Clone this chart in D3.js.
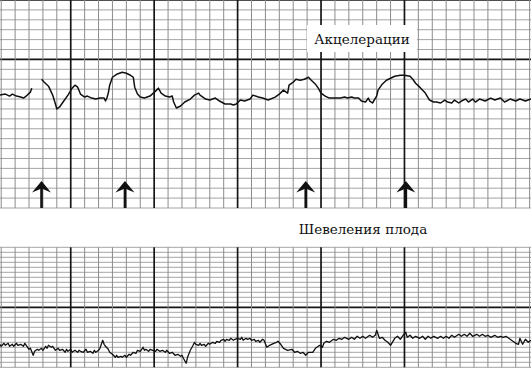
<!doctype html>
<html>
<head>
<meta charset="utf-8">
<style>
  body { margin: 0; background: #fff; }
  svg { display: block; }
  .lbl { font-family: "DejaVu Serif", serif; fill: #111; }
</style>
<script src="https://d3js.org/d3.v7.min.js"></script>
</head>
<body>
<svg width="531" height="368" id="ctg"></svg>
<script>
// fetal heart rate (seconds, bpm); null = signal loss
var fhrTime = [9,13,16,18,21,24,26,28,31,32,35,39,41,44,47,49,50,52,55,58,61,63,65,67,70,72,75,78,81,84,85,86,87,88,90,93,97,100,103,105,106,108,110,113,117,121,123,125,128,131,133,134,136,139,142,146,149,152,153,157,160,164,167,171,175,177,179,182,185,189,191,195,198,202,207,210,213,216,217,220,222,225,228,231,233,236,238,240,243,246,250,254,257,259,262,264,267,269,272,274,275,277,280,281,284,287,290,293,297,300,304,306,308,311,315,318,321,323,326,329,331,334,336,339,341,344,346,349,351,354,358,362,365,369,372,376,380,383,387,391];
var fhrBpm = [144,145,143,145,143,142,141,143,147,151,null,160,157,153,144,135,130,132,138,144,151,154,152,145,142,143,141,140,141,141,138,141,146,154,162,165,167,166,164,162,152,145,142,141,143,148,151,146,143,142,143,137,131,133,137,140,144,146,144,140,139,141,138,135,135,134,135,139,138,140,144,142,141,139,142,145,149,146,154,157,160,159,160,162,159,155,151,146,143,141,141,141,142,141,142,141,141,138,137,141,138,136,143,149,155,159,161,163,164,164,163,160,156,152,146,139,137,137,136,139,137,136,139,136,138,140,137,140,137,140,138,141,139,141,137,140,138,140,138,140];

// lower channel (seconds, units)
var uaTime = [9,10,12,13,15,16,18,19,21,22,24,26,27,29,30,31,33,34,36,37,39,40,42,43,44,46,47,49,51,52,54,56,57,58,60,61,63,65,66,67,69,71,72,74,76,77,78,80,81,83,84,85,87,88,90,92,93,94,96,97,99,100,102,103,105,107,108,110,112,113,114,116,117,119,121,122,124,126,128,129,131,133,135,137,139,140,141,143,144,146,148,149,150,152,153,154,156,157,159,160,162,164,165,167,168,170,171,172,174,175,177,178,180,182,183,184,186,187,189,190,192,193,195,196,198,199,201,203,206,208,209,211,213,216,219,221,223,225,227,229,231,234,236,239,241,242,244,246,249,251,253,255,257,260,262,264,266,268,270,272,275,277,279,280,282,284,286,288,290,293,295,297,299,301,302,304,306,308,311,313,315,317,319,321,324,326,328,330,332,334,336,339,341,343,345,347,349,352,354,356,358,360,362,365,367,369,371,373,375,377,380,382,383,385,387,389,391];
var uaValue = [23,21,24,22,24,21,23,21,24,22,23,21,24,20,18,19,12,16,18,17,19,17,21,19,22,20,21,17,19,17,18,15,18,16,18,15,17,15,17,16,15,18,15,16,14,17,15,17,19,27,23,21,18,15,13,10,12,10,11,10,12,10,13,12,15,14,17,16,20,17,18,16,18,17,16,18,16,17,15,17,14,15,12,13,11,12,9,4,10,17,22,25,23,22,24,22,23,21,24,23,25,24,26,25,27,28,26,28,27,29,27,28,29,28,30,27,29,28,29,27,28,26,27,25,28,27,20,22,24,25,26,23,19,17,18,15,16,14,15,12,15,15,19,22,20,24,26,25,28,27,29,28,30,28,30,28,31,29,31,29,32,30,32,37,29,30,27,25,22,29,31,28,32,35,30,32,29,31,29,31,28,31,29,31,29,31,29,31,29,32,30,33,31,33,31,34,31,33,31,33,31,32,30,32,30,31,30,31,29,27,24,23,29,23,28,25,27];

// fetal movement marks (seconds)
var moveTime = [39, 99, 229, 301];

var titleTop = "Акцелерации";
var titleMid = "Шевеления плода";

var svg = d3.select("#ctg");
var W = 531;

var x = d3.scaleLinear().domain([0, 391]).range([-12.7, 531]);
var yTop = d3.scaleLinear().domain([30, 240]).range([208, 0]);
var yBot = d3.scaleLinear().domain([0, 120]).range([367.3, 247.3]);

var vTicks = d3.range(10, 391, 10);
var thickV = function(t) { return t % 60 === 0 && t <= 300; };

function grid(g, y, hTicks, thickH) {
    var y0 = y.range()[1], y1 = y.range()[0];
    g.selectAll(".h").data(hTicks).enter().append("line")
        .attr("x1", 0).attr("x2", W)
        .attr("y1", function(d) { return y(d); })
        .attr("y2", function(d) { return y(d); })
        .attr("stroke", function(d) { return thickH(d) ? "#151515" : "#a4a4a4"; })
        .attr("stroke-width", function(d) { return thickH(d) ? 1.7 : 1; });
    g.selectAll(".v").data(vTicks).enter().append("line")
        .attr("x1", function(d) { return x(d); })
        .attr("x2", function(d) { return x(d); })
        .attr("y1", y0).attr("y2", y1)
        .attr("stroke", function(d) { return thickV(d) ? "#151515" : "#8c8c8c"; })
        .attr("stroke-width", function(d) { return thickV(d) ? 1.7 : 1; });
}

svg.append("rect").attr("width", W).attr("height", 368).attr("fill", "#fff");

var gTop = svg.append("g");
grid(gTop, yTop, d3.range(30, 241, 10), function(d) { return d === 180 || d === 240; });

var gBot = svg.append("g");
grid(gBot, yBot, d3.range(0, 121, 5), function(d) { return d === 60; });

// label box over the upper grid
svg.append("rect")
    .attr("x", 307).attr("y", 25).attr("width", 110).attr("height", 27)
    .attr("fill", "#fff");
svg.append("text").attr("class", "lbl")
    .attr("x", 362).attr("y", 44)
    .attr("text-anchor", "middle")
    .attr("font-size", "13.5px")
    .text(titleTop);

svg.append("text").attr("class", "lbl")
    .attr("x", 363).attr("y", 234)
    .attr("text-anchor", "middle")
    .attr("font-size", "13.5px")
    .text(titleMid);

var fhr = fhrTime.map(function(t, i) { return { t: t, v: fhrBpm[i] }; });
var ua = uaTime.map(function(t, i) { return { t: t, v: uaValue[i] }; });

svg.append("path")
    .datum(fhr)
    .attr("fill", "none")
    .attr("stroke", "#111")
    .attr("stroke-width", 1.5)
    .attr("stroke-linejoin", "round")
    .attr("d", d3.line()
        .defined(function(d) { return d.v != null; })
        .x(function(d) { return x(d.t); })
        .y(function(d) { return yTop(d.v); }));

svg.append("path")
    .datum(ua)
    .attr("fill", "none")
    .attr("stroke", "#111")
    .attr("stroke-width", 1.3)
    .attr("stroke-linejoin", "round")
    .attr("d", d3.line()
        .x(function(d) { return x(d.t); })
        .y(function(d) { return yBot(d.v); }));

// movement arrows
var base = yTop(30);
var arrows = svg.selectAll(".arrow").data(moveTime).enter().append("g")
    .attr("class", "arrow")
    .attr("transform", function(d) { return "translate(" + x(d) + "," + (base - 27) + ")"; });
arrows.append("rect")
    .attr("x", -1.3).attr("y", 6).attr("width", 2.6).attr("height", 21)
    .attr("fill", "#111");
arrows.append("path")
    .attr("d", "M0,0 L9.5,11.5 L0,7.5 L-9.5,11.5 Z")
    .attr("fill", "#111");
</script>
</body>
</html>
